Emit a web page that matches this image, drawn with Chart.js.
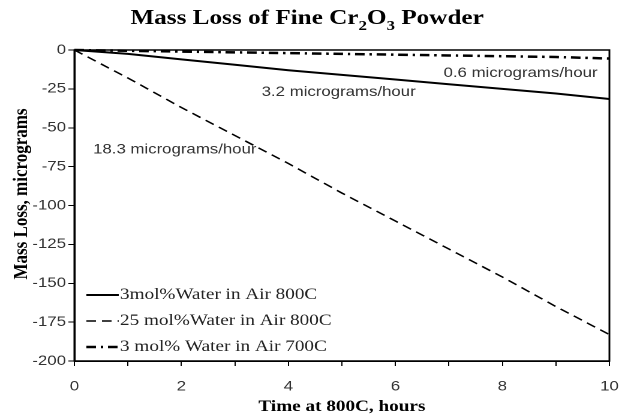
<!DOCTYPE html>
<html>
<head>
<meta charset="utf-8">
<script src="https://cdn.jsdelivr.net/npm/chart.js@4"></script>
<style>
  html, body { margin: 0; padding: 0; background: #fff; overflow: hidden; }
  /* the original figure is stretched sideways, so draw narrower and widen it */
  #wrap { width: 516px; height: 416px; position: relative; transform: scaleX(1.19961); transform-origin: 0 0; }
</style>
</head>
<body>
<div id="wrap"><canvas id="chart"></canvas></div>
<script>
// data
const hours = [0, 1, 2, 3, 4, 5, 6, 7, 8, 9, 10];
const water3at800 = [0, -2.5, -6, -9.5, -13, -16, -19, -22, -25, -28, -31.5];
const water25at800 = [0, -18, -37, -55, -73, -92, -110, -128, -146, -165, -183];
const water3at700 = [0, -0.5, -1, -1.5, -2, -2.5, -3, -3.5, -4, -4.5, -5.5];
const seriesNames = ["3mol%Water in Air 800C", "25 mol%Water in Air 800C", "3 mol% Water in Air 700C"];
const xTickLabels = [0, 2, 4, 6, 8, 10];
const rateLabels = ["0.6 micrograms/hour", "3.2 micrograms/hour", "18.3 micrograms/hour"];
const rateAt = [[6.9, -15], [3.5, -27], [0.35, -64]]; // [hours, micrograms] where each label starts

const extras = {
  id: "extras",
  afterDraw(chart) {
    const ctx = chart.ctx;
    const a = chart.chartArea;
    const xs = chart.scales.x, ys = chart.scales.y;

    // box round the plot
    ctx.save();
    ctx.strokeStyle = "#000";
    ctx.lineWidth = 1.5;
    ctx.strokeRect(a.left, a.top, a.right - a.left, a.bottom - a.top);
    ctx.restore();

    // title with subscripts
    const big = "bold 21px 'Liberation Serif'", small = "bold 14px 'Liberation Serif'";
    const parts = [["Mass Loss of Fine Cr", big, 0], ["2", small, 6], ["O", big, 0], ["3", small, 6], [" Powder", big, 0]];
    ctx.save();
    ctx.fillStyle = "#000";
    ctx.textBaseline = "alphabetic";
    let total = 0;
    parts.forEach(p => { ctx.font = p[1]; total += ctx.measureText(p[0]).width; });
    let tx = 256 - total / 2;
    parts.forEach(p => {
      ctx.font = p[1];
      ctx.fillText(p[0], tx, 24 + p[2]);
      tx += ctx.measureText(p[0]).width;
    });
    ctx.restore();

    // y axis title
    ctx.save();
    ctx.translate(18, 194);
    ctx.rotate(-Math.PI / 2);
    ctx.font = "bold 17px 'Liberation Serif'";
    ctx.fillStyle = "#000";
    ctx.textAlign = "center";
    ctx.textBaseline = "middle";
    ctx.fillText("Mass Loss, micrograms", 0, 0);
    ctx.restore();

    // rate labels
    ctx.save();
    ctx.font = "14px 'Liberation Sans'";
    ctx.fillStyle = "#333";
    ctx.textBaseline = "middle";
    rateLabels.forEach((t, i) => {
      ctx.fillText(t, xs.getPixelForValue(rateAt[i][0]), ys.getPixelForValue(rateAt[i][1]));
    });
    ctx.restore();

    // legend inside the plot, bottom left
    chart.data.datasets.forEach((ds, i) => {
      const y = a.bottom - 66 + i * 26;
      const x = a.left + 10;
      ctx.save();
      ctx.strokeStyle = ds.borderColor;
      ctx.lineWidth = ds.borderWidth;
      ctx.setLineDash(ds.borderDash || []);
      ctx.beginPath();
      ctx.moveTo(x, y);
      ctx.lineTo(x + 27, y);
      ctx.stroke();
      ctx.setLineDash([]);
      ctx.font = "16px 'Liberation Serif'";
      ctx.fillStyle = "#222";
      ctx.textBaseline = "middle";
      ctx.fillText(ds.label, x + 28, y);
      ctx.restore();
    });
  }
};

new Chart(document.getElementById("chart"), {
  type: "line",
  data: {
    datasets: [
      { label: seriesNames[0], data: water3at800, borderColor: "#000", borderWidth: 2, borderDash: [] },
      { label: seriesNames[1], data: water25at800, borderColor: "#000", borderWidth: 1.5, borderDash: [8, 5] },
      { label: seriesNames[2], data: water3at700, borderColor: "#000", borderWidth: 2.5, borderDash: [8, 4, 2, 4] }
    ].map(d => Object.assign(d, {
      data: d.data.map((v, i) => ({ x: hours[i], y: v })),
      pointRadius: 0, tension: 0, fill: false, clip: 4
    }))
  },
  options: {
    responsive: true,
    maintainAspectRatio: false,
    animation: false,
    devicePixelRatio: 2,
    layout: { padding: { top: 50, right: 8, left: 0, bottom: 0 } },
    plugins: { legend: { display: false }, tooltip: { enabled: false } },
    scales: {
      x: {
        type: "linear", min: 0, max: 10,
        afterFit: s => { s.height = 55; s.paddingLeft = 0; s.paddingRight = 0; },
        border: { color: "#000", width: 1.5 },
        grid: { drawOnChartArea: false, tickLength: 5, color: "#000", lineWidth: 1 },
        ticks: {
          stepSize: 1, autoSkip: false, maxRotation: 0, padding: 12,
          color: "#333", font: { family: "'Liberation Sans'", size: 14 },
          callback: v => xTickLabels.includes(v) ? String(v) : ""
        },
        title: {
          display: true, text: "Time at 800C, hours", color: "#000",
          font: { family: "'Liberation Serif'", size: 16, weight: "bold", lineHeight: 1 },
          padding: { top: 0, bottom: 1 }
        }
      },
      y: {
        min: -200, max: 0,
        afterFit: s => { s.width = 62; },
        border: { color: "#000", width: 1.5 },
        grid: { drawOnChartArea: false, tickLength: 5, color: "#000", lineWidth: 1 },
        ticks: {
          stepSize: 25, padding: 2,
          color: "#333", font: { family: "'Liberation Sans'", size: 14 }
        }
      }
    }
  },
  plugins: [extras]
});
</script>
</body>
</html>
